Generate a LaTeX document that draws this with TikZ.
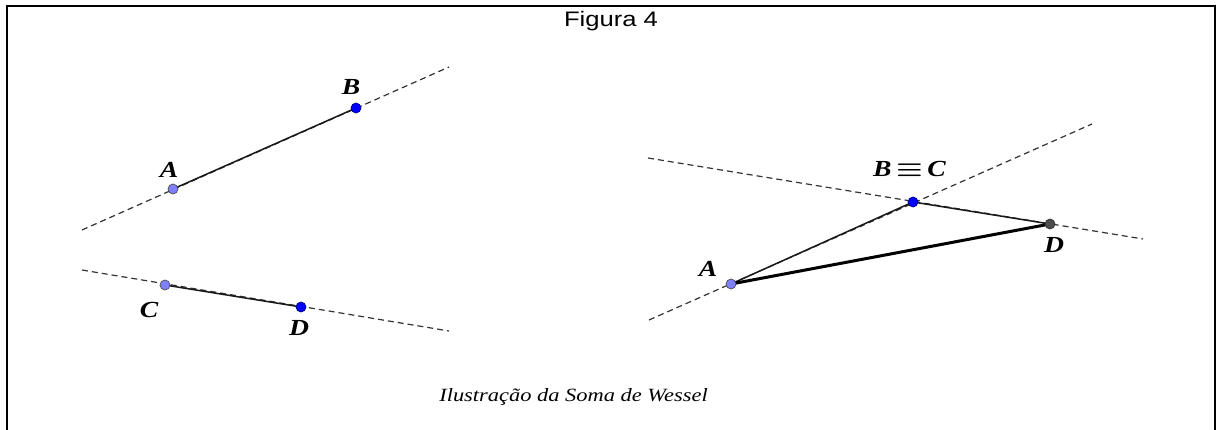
\documentclass[tikz,border=0pt]{standalone}
\usepackage{amsmath}
\usepackage{fontspec}
\setmainfont{Liberation Serif}
\newfontfamily\arialfont{Liberation Sans}
\begin{document}
\begin{tikzpicture}[x=1pt,y=-1pt,
  dline/.style={draw=black!80, line width=1.2pt, dash pattern=on 6pt off 4pt},
  seg/.style={draw=black!90, line width=1.5pt},
  thickseg/.style={draw=black, line width=3pt},
  lpt/.style={circle, draw=black!70, fill=blue!50!white, line width=0.7pt, inner sep=0pt, minimum size=10pt},
  bpt/.style={circle, draw=blue!50!black, fill=blue, line width=0.7pt, inner sep=0pt, minimum size=10pt},
  gpt/.style={circle, draw=black!80, fill=black!70, line width=0.7pt, inner sep=0pt, minimum size=10pt},
  lbl/.style={font=\fontsize{23}{23}\selectfont\bfseries\itshape, inner sep=0pt, xscale=1.2}
]
\useasboundingbox (0,0) rectangle (1216,430);
% frame
\draw[line width=2pt] (6.5,430) -- (6.5,6.5) -- (1214.5,6.5) -- (1214.5,430);
\node[font=\arialfont\fontsize{21}{22}\selectfont, anchor=base, xscale=1.22, inner sep=0pt] (title) at (611,27) {Figura 4};
\node[font=\fontsize{18.7}{19}\selectfont\itshape, anchor=base, xscale=1.2, inner sep=0pt] (cap) at (573.5,402) {Ilustração da Soma de Wessel};

% left figure
\coordinate (l1s) at (82,230);
\coordinate (l1e) at (449,67);
\coordinate (l2s) at (82,270);
\coordinate (l2e) at (449,331);
\draw[dline] (l1s) -- (l1e);
\draw[dline] (l2s) -- (l2e);
\coordinate (A1) at (173,189);
\coordinate (B1) at (356,108);
\coordinate (C1) at (165,285);
\coordinate (D1) at (301,307);
\draw[seg] (A1) -- (B1);
\draw[seg] (C1) -- (D1);
\node[lpt] (pA1) at (A1) {};
\node[bpt] (pB1) at (B1) {};
\node[lpt] (pC1) at (C1) {};
\node[bpt] (pD1) at (D1) {};
\node[lbl] (tA1) at (169,170) {A};
\node[lbl] (tB1) at (351,87.5) {B};
\node[lbl] (tC1) at (149,310) {C};
\node[lbl] (tD1) at (299,328) {D};

% right figure
\coordinate (r1s) at (649,320);
\coordinate (r1e) at (1092,124);
\coordinate (r2s) at (648,158);
\coordinate (r2e) at (1143,239);
\draw[dline] (r1s) -- (r1e);
\draw[dline] (r2s) -- (r2e);
\coordinate (A2) at (731,284);
\coordinate (B2) at (913,202);
\coordinate (D2) at (1050,224);
\draw[seg] (A2) -- (B2);
\draw[seg] (B2) -- (D2);
\draw[thickseg] (A2) -- (D2);
\node[lpt] (pA2) at (A2) {};
\node[bpt] (pB2) at (B2) {};
\node[gpt] (pD2) at (D2) {};
\node[lbl] (tA2) at (708,269) {A};
\node[lbl] (tB2) at (909.5,169) {B\,$\boldsymbol{\equiv}$\,C};
\node[lbl] (tD2) at (1054,245) {D};
\end{tikzpicture}
\end{document}
